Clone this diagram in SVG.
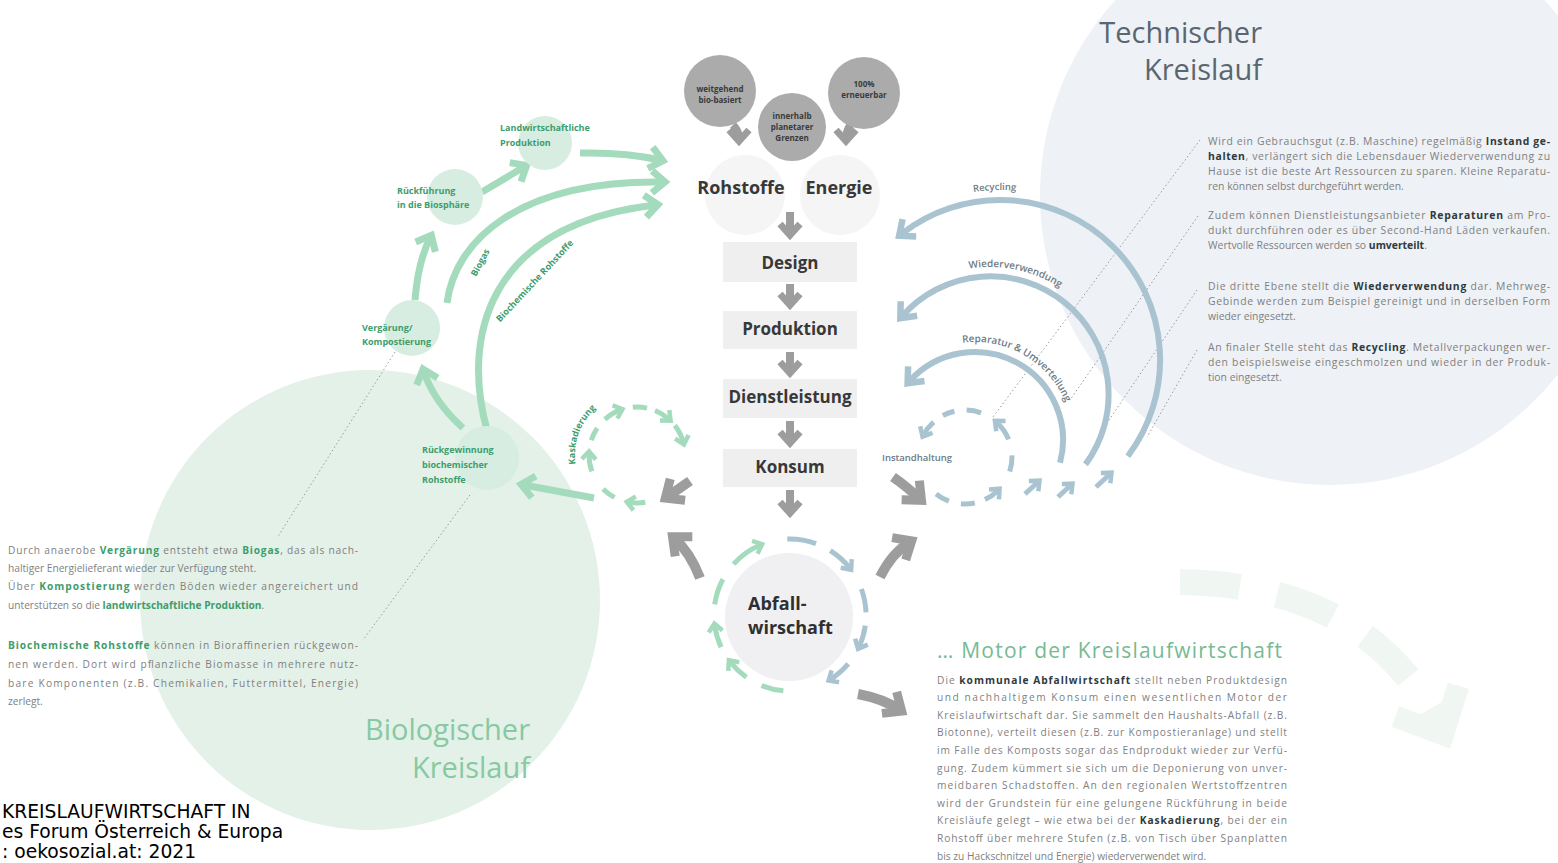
<svg xmlns="http://www.w3.org/2000/svg" width="1558" height="863" viewBox="0 0 1558 863">
<style>
.body{font-family:"Open Sans","Noto Sans",sans-serif;font-size:10.2px;fill:#7f7f7f}
.bodyR{font-size:10.4px}
.bg{font-weight:700;fill:#3d9d6d}
.bd{font-weight:700;fill:#2f3a40}
.node{font-family:"Open Sans","Noto Sans",sans-serif;font-weight:700;font-size:17px;fill:#383838;text-anchor:middle}
.glab{font-family:"Open Sans","Noto Sans",sans-serif;font-weight:700;font-size:9px;fill:#3d9d6d}
.tlab{font-family:"Open Sans","Noto Sans",sans-serif;font-weight:600;font-size:9.5px;fill:#6e7b84}
.circ{font-family:"Open Sans","Noto Sans",sans-serif;font-weight:700;font-size:8px;fill:#3a3a3a;text-anchor:middle}
.box{fill:#efefef}
.gcirc{fill:#ababab}
.lgc{fill:#d7ede1}
.dot{stroke:#9a9a9a;stroke-width:1;stroke-dasharray:1.5 2.5;fill:none}
.ga{fill:none;stroke:#a5dbbd;stroke-width:7}
.gs{fill:none;stroke:#a5dbbd;stroke-width:5}
.ba{fill:none;stroke:#a9c4d0;stroke-width:6}
.bs{fill:none;stroke:#a9c4d0;stroke-width:5}
.gr{fill:none;stroke:#9d9d9d;stroke-width:8}
.grL{fill:none;stroke:#9d9d9d;stroke-width:10}
</style>
<defs>
<marker id="mGr" viewBox="0 0 30 30" markerWidth="30" markerHeight="30" refX="16" refY="15" orient="auto" markerUnits="userSpaceOnUse" overflow="visible"><path d="M6,4 L19,15 L6,26" fill="none" stroke="#a5dbbd" stroke-width="7"/></marker>
<marker id="mGrS" viewBox="0 0 18 18" markerWidth="18" markerHeight="18" refX="9" refY="9" orient="auto" markerUnits="userSpaceOnUse" overflow="visible"><path d="M3,2 L11,9 L3,16" fill="none" stroke="#a5dbbd" stroke-width="4.5"/></marker>
<marker id="mB" viewBox="0 0 30 30" markerWidth="30" markerHeight="30" refX="16" refY="15" orient="auto" markerUnits="userSpaceOnUse" overflow="visible"><path d="M6,4 L19,15 L6,26" fill="none" stroke="#a9c4d0" stroke-width="6.5"/></marker>
<marker id="mBS" viewBox="0 0 18 18" markerWidth="18" markerHeight="18" refX="9" refY="9" orient="auto" markerUnits="userSpaceOnUse" overflow="visible"><path d="M3,2 L11,9 L3,16" fill="none" stroke="#a9c4d0" stroke-width="4.5"/></marker>
<marker id="mG" viewBox="0 0 28 28" markerWidth="28" markerHeight="28" refX="15" refY="14" orient="auto" markerUnits="userSpaceOnUse" overflow="visible"><path d="M6,4 L17,14 L6,24" fill="none" stroke="#9d9d9d" stroke-width="7"/></marker>
<marker id="mGL" viewBox="0 0 36 36" markerWidth="36" markerHeight="36" refX="19" refY="18" orient="auto" markerUnits="userSpaceOnUse" overflow="visible"><path d="M6,5 L21,18 L6,31" fill="none" stroke="#9d9d9d" stroke-width="9"/></marker>
<marker id="mF" viewBox="0 0 90 90" markerWidth="90" markerHeight="90" refX="45" refY="45" orient="auto" markerUnits="userSpaceOnUse" overflow="visible"><path d="M15,10 L52,45 L15,80" fill="none" stroke="#f0f7f2" stroke-width="22"/></marker>
</defs>

<rect width="1558" height="863" fill="#ffffff"/>

<g id="backgrounds">
<circle cx="1330" cy="195" r="290" fill="#eef1f5"/>
<circle cx="370" cy="600" r="230" fill="#e4f1e9"/>
<path d="M1180,582 Q1370,585 1440,728" fill="none" stroke="#f0f7f2" stroke-width="26" stroke-dasharray="60 38" marker-end="url(#mF)"/>
</g>

<g id="title-technisch" font-family="'Open Sans','Noto Sans',sans-serif" font-size="29" fill="#5a6670" text-anchor="end">
<text x="1262" y="43">Technischer</text>
<text x="1262" y="80">Kreislauf</text>
</g>
<g id="title-biologisch" font-family="'Open Sans','Noto Sans',sans-serif" font-size="29" fill="#86c9a2" text-anchor="end">
<text x="530" y="740">Biologischer</text>
<text x="530" y="778">Kreislauf</text>
</g>

<g id="connectors">
<line class="dot" x1="395" y1="352" x2="277" y2="538"/>
<line class="dot" x1="470" y1="495" x2="363" y2="640"/>
<line class="dot" x1="1200" y1="140" x2="993" y2="417"/>
<line class="dot" x1="1198" y1="216" x2="1070" y2="400"/>
<line class="dot" x1="1197" y1="290" x2="1107" y2="423"/>
<line class="dot" x1="1197" y1="350" x2="1147" y2="437"/>

<path class="gr" d="M733,125 Q739,131 739,139" marker-end="url(#mG)"/>
<path class="gr" d="M851,124 Q846,131 846,139" marker-end="url(#mG)"/>

<path class="gr" d="M790,212 V233" marker-end="url(#mG)"/>
<path class="gr" d="M790,284 V303" marker-end="url(#mG)"/>
<path class="gr" d="M790,352 V371" marker-end="url(#mG)"/>
<path class="gr" d="M790,421 V441" marker-end="url(#mG)"/>
<path class="gr" d="M790,490 V511" marker-end="url(#mG)"/>

<path class="grL" d="M690,481 L667,497" marker-end="url(#mGL)"/>
<path class="grL" d="M700,578 Q690,552 674,538" marker-end="url(#mGL)"/>
<path class="grL" d="M880,577 Q892,553 910,542" marker-end="url(#mGL)"/>
<path class="grL" d="M893,477 Q906,486 920,499" marker-end="url(#mGL)"/>
<path class="grL" d="M858,694 Q884,699 900,710" marker-end="url(#mGL)"/>

<path class="ga" d="M482,192 L524,167" marker-end="url(#mGr)"/>
<path class="ga" d="M580,153 Q625,152 660,160" marker-end="url(#mGr)"/>
<path class="ga" d="M447,303 C455,240 520,180 662,182" marker-end="url(#mGr)"/>
<path class="ga" d="M487,430 C462,340 485,225 655,205" marker-end="url(#mGr)"/>
<path class="ga" d="M415,300 Q418,262 430,238" marker-end="url(#mGr)"/>
<path class="ga" d="M463,428 Q434,402 424,372" marker-end="url(#mGr)"/>
<path class="ga" d="M594,498 Q562,492 524,485" marker-end="url(#mGr)"/>

<path class="gs" d="M645.3,502.3 A48,48 0 0 1 628.7,502.3" marker-end="url(#mGrS)"/>
<path class="gs" d="M614.5,497.4 A48,48 0 0 1 603.1,488.9"/>
<path class="gs" d="M591.9,471.4 A48,48 0 0 1 589.0,453.3" marker-end="url(#mGrS)"/>
<path class="gs" d="M591.3,440.2 A48,48 0 0 1 597.2,428.2"/>
<path class="gs" d="M604.9,419.3 A48,48 0 0 1 620.6,409.9" marker-end="url(#mGrS)"/>
<path class="gs" d="M632.8,407.2 A48,48 0 0 1 647.0,408.1"/>
<path class="gs" d="M655.0,410.5 A48,48 0 0 1 669.1,419.3" marker-end="url(#mGrS)"/>
<path class="gs" d="M674.8,425.4 A48,48 0 0 1 683.4,442.6" marker-end="url(#mGrS)"/>

<path class="gs" d="M783.4,690.7 A76,76 0 0 1 761.5,685.5"/>
<path class="gs" d="M746.4,677.3 A76,76 0 0 1 730.1,661.8" marker-end="url(#mGrS)"/>
<path class="gs" d="M721.1,647.1 A76,76 0 0 1 714.7,625.6" marker-end="url(#mGrS)"/>
<path class="gs" d="M714.7,604.4 A76,76 0 0 1 722.9,579.3"/>
<path class="gs" d="M733.5,564.1 A76,76 0 0 1 760.3,545.0" marker-end="url(#mGrS)"/>
<path class="bs" d="M787.3,539.0 A76,76 0 0 1 816.0,543.6"/>
<path class="bs" d="M830.3,550.6 A76,76 0 0 1 849.9,568.2" marker-end="url(#mBS)"/>
<path class="bs" d="M861.4,589.0 A76,76 0 0 1 866.0,612.3"/>
<path class="bs" d="M865.3,625.6 A76,76 0 0 1 858.9,647.1" marker-end="url(#mBS)"/>
<path class="bs" d="M848.2,663.9 A76,76 0 0 1 830.3,679.4" marker-end="url(#mBS)"/>

<path id="arcRecycling" class="ba" d="M1127.8,456.3 A160,160 0 0 0 901.5,233.9" marker-end="url(#mB)"/>
<path id="arcWieder" class="ba" d="M1085.5,464.4 A118,118 0 0 0 902.3,316.0" marker-end="url(#mB)"/>
<path id="arcRep" class="ba" d="M1060,462.8 A88,88 0 0 0 909.6,381.1" marker-end="url(#mB)"/>

<path class="bs" d="M936.1,494.0 A47,47 0 0 0 948.9,501.2"/>
<path class="bs" d="M960.9,503.8 A47,47 0 0 0 974.8,503.0"/>
<path class="bs" d="M984.9,499.6 A47,47 0 0 0 998.2,490.2" marker-end="url(#mBS)"/>
<path class="bs" d="M1009.7,471.5 A47,47 0 0 0 1012.0,455.4"/>
<path class="bs" d="M1008.6,439.4 A47,47 0 0 0 996.4,422.1" marker-end="url(#mBS)"/>
<path class="bs" d="M981.1,412.8 A47,47 0 0 0 966.6,410.0"/>
<path class="bs" d="M954.4,411.2 A47,47 0 0 0 942.9,415.5"/>
<path class="bs" d="M933.6,422.1 A47,47 0 0 0 923.5,434.9" marker-end="url(#mBS)"/>
<path class="bs" d="M1025,494 L1038,482" marker-end="url(#mBS)"/>
<path class="bs" d="M1058,497 L1071,485" marker-end="url(#mBS)"/>
<path class="bs" d="M1096,487 L1110,474" marker-end="url(#mBS)"/>

<path id="tpRec" d="M915,212.8 A170,170 0 0 1 1085,212.8" fill="none"/>
<path id="tpWie" d="M935.9,279.0 A128,128 0 0 1 1094.9,321.6" fill="none"/>
<path id="tpRep" d="M926,355.1 A98,98 0 0 1 1073,440" fill="none"/>
<path id="tpKas" d="M589.5,494.9 A62,62 0 0 1 626.2,393.9" fill="none"/>
</g>

<g id="connector-labels">
<text class="tlab"><textPath href="#tpRec" startOffset="47%" text-anchor="middle">Recycling</textPath></text>
<text class="tlab" style="font-size:10px"><textPath href="#tpWie" startOffset="46%" text-anchor="middle">Wiederverwendung</textPath></text>
<text class="tlab" style="font-size:10px"><textPath href="#tpRep" startOffset="50%" text-anchor="middle">Reparatur &amp; Umverteilung</textPath></text>
<text class="tlab" x="882" y="461">Instandhaltung</text>
<text class="glab"><textPath href="#tpKas" startOffset="50%" text-anchor="middle">Kaskadierung</textPath></text>
<text class="glab" transform="translate(483,264) rotate(-62)" text-anchor="middle">Biogas</text>
<text class="glab" transform="translate(537,283) rotate(-47)" text-anchor="middle">Biochemische Rohstoffe</text>
</g>

<g id="node-biobasiert">
<circle class="gcirc" cx="720" cy="91" r="36"/>
<text class="circ" x="720" y="92">weitgehend</text>
<text class="circ" x="720" y="103">bio-basiert</text>
</g>
<g id="node-grenzen">
<circle class="gcirc" cx="792" cy="127" r="34"/>
<text class="circ" x="792" y="119">innerhalb</text>
<text class="circ" x="792" y="130">planetarer</text>
<text class="circ" x="792" y="141">Grenzen</text>
</g>
<g id="node-erneuerbar">
<circle class="gcirc" cx="864" cy="93" r="36"/>
<text class="circ" x="864" y="87">100%</text>
<text class="circ" x="864" y="98">erneuerbar</text>
</g>

<g id="node-rohstoffe">
<circle cx="745" cy="195" r="40" fill="#f5f5f5"/>
<text class="node" x="741" y="194" style="font-size:18px">Rohstoffe</text>
</g>
<g id="node-energie">
<circle cx="840" cy="195" r="40" fill="#f5f5f5"/>
<text class="node" x="839" y="194" style="font-size:18px">Energie</text>
</g>
<g id="node-design">
<rect class="box" x="723" y="242" width="134" height="40"/>
<text class="node" x="790" y="269">Design</text>
</g>
<g id="node-produktion">
<rect class="box" x="723" y="311" width="134" height="38"/>
<text class="node" x="790" y="335">Produktion</text>
</g>
<g id="node-dienstleistung">
<rect class="box" x="723" y="379" width="134" height="39"/>
<text class="node" x="790" y="403">Dienstleistung</text>
</g>
<g id="node-konsum">
<rect class="box" x="723" y="449" width="134" height="38"/>
<text class="node" x="790" y="473">Konsum</text>
</g>
<g id="node-abfall">
<circle cx="789" cy="617" r="64" fill="#f0f0f2"/>
<text x="748" y="610" font-family="'Open Sans','Noto Sans',sans-serif" font-weight="700" font-size="18" fill="#2f2f2f">Abfall-</text>
<text x="748" y="634" font-family="'Open Sans','Noto Sans',sans-serif" font-weight="700" font-size="18" fill="#2f2f2f">wirschaft</text>
</g>

<g id="node-landwirtschaft">
<circle class="lgc" cx="545" cy="143" r="27"/>
<text class="glab" x="500" y="131">Landwirtschaftliche</text>
<text class="glab" x="500" y="146">Produktion</text>
</g>
<g id="node-rueckfuehrung">
<circle class="lgc" cx="455" cy="197" r="28"/>
<text class="glab" x="397" y="194">Rückführung</text>
<text class="glab" x="397" y="208">in die Biosphäre</text>
</g>
<g id="node-vergaerung">
<circle class="lgc" cx="412" cy="328" r="28"/>
<text class="glab" x="362" y="331">Vergärung/</text>
<text class="glab" x="362" y="345">Kompostierung</text>
</g>
<g id="node-rueckgewinnung">
<circle class="lgc" cx="487" cy="458" r="32"/>
<text class="glab" x="422" y="453">Rückgewinnung</text>
<text class="glab" x="422" y="468">biochemischer</text>
<text class="glab" x="422" y="483">Rohstoffe</text>
</g>

<g id="text-technisch" class="body bodyR">
<text x="1208" y="145" textLength="342" lengthAdjust="spacing">Wird ein Gebrauchsgut (z.B. Maschine) regelmäßig <tspan class="bd">Instand ge-</tspan></text>
<text x="1208" y="160" textLength="342" lengthAdjust="spacing"><tspan class="bd">halten</tspan>, verlängert sich die Lebensdauer Wiederverwendung zu</text>
<text x="1208" y="175" textLength="342" lengthAdjust="spacing">Hause ist die beste Art Ressourcen zu sparen. Kleine Reparatu-</text>
<text x="1208" y="190">ren können selbst durchgeführt werden.</text>
<text x="1208" y="219" textLength="342" lengthAdjust="spacing">Zudem können Dienstleistungsanbieter <tspan class="bd">Reparaturen</tspan> am Pro-</text>
<text x="1208" y="234" textLength="342" lengthAdjust="spacing">dukt durchführen oder es über Second-Hand Läden verkaufen.</text>
<text x="1208" y="249">Wertvolle Ressourcen werden so <tspan class="bd">umverteilt</tspan>.</text>
<text x="1208" y="290" textLength="342" lengthAdjust="spacing">Die dritte Ebene stellt die <tspan class="bd">Wiederverwendung</tspan> dar. Mehrweg-</text>
<text x="1208" y="305" textLength="342" lengthAdjust="spacing">Gebinde werden zum Beispiel gereinigt und in derselben Form</text>
<text x="1208" y="320">wieder eingesetzt.</text>
<text x="1208" y="351" textLength="342" lengthAdjust="spacing">An finaler Stelle steht das <tspan class="bd">Recycling</tspan>. Metallverpackungen wer-</text>
<text x="1208" y="366" textLength="342" lengthAdjust="spacing">den beispielsweise eingeschmolzen und wieder in der Produk-</text>
<text x="1208" y="381">tion eingesetzt.</text>
</g>

<g id="text-biologisch" class="body">
<text x="8" y="554" textLength="350" lengthAdjust="spacing">Durch anaerobe <tspan class="bg">Vergärung</tspan> entsteht etwa <tspan class="bg">Biogas</tspan>, das als nach-</text>
<text x="8" y="572">haltiger Energielieferant wieder zur Verfügung steht.</text>
<text x="8" y="590" textLength="350" lengthAdjust="spacing">Über <tspan class="bg">Kompostierung</tspan> werden Böden wieder angereichert und</text>
<text x="8" y="609">unterstützen so die <tspan class="bg">landwirtschaftliche Produktion</tspan>.</text>
<text x="8" y="649" textLength="350" lengthAdjust="spacing"><tspan class="bg">Biochemische Rohstoffe</tspan> können in Bioraffinerien rückgewon-</text>
<text x="8" y="668" textLength="350" lengthAdjust="spacing">nen werden. Dort wird pflanzliche Biomasse in mehrere nutz-</text>
<text x="8" y="687" textLength="350" lengthAdjust="spacing">bare Komponenten (z.B. Chemikalien, Futtermittel, Energie)</text>
<text x="8" y="705">zerlegt.</text>
</g>

<g id="text-motor" class="body">
<text x="937" y="658" style="font-size:21px;fill:#77ba93" textLength="345" lengthAdjust="spacing">… Motor der Kreislaufwirtschaft</text>
<text x="937" y="683.5" textLength="350" lengthAdjust="spacing">Die <tspan class="bd">kommunale Abfallwirtschaft</tspan> stellt neben Produktdesign</text>
<text x="937" y="701.1" textLength="350" lengthAdjust="spacing">und nachhaltigem Konsum einen wesentlichen Motor der</text>
<text x="937" y="718.7" textLength="350" lengthAdjust="spacing">Kreislaufwirtschaft dar. Sie sammelt den Haushalts-Abfall (z.B.</text>
<text x="937" y="736.3" textLength="350" lengthAdjust="spacing">Biotonne), verteilt diesen (z.B. zur Kompostieranlage) und stellt</text>
<text x="937" y="753.9" textLength="350" lengthAdjust="spacing">im Falle des Komposts sogar das Endprodukt wieder zur Verfü-</text>
<text x="937" y="771.5" textLength="350" lengthAdjust="spacing">gung. Zudem kümmert sie sich um die Deponierung von unver-</text>
<text x="937" y="789.1" textLength="350" lengthAdjust="spacing">meidbaren Schadstoffen. An den regionalen Wertstoffzentren</text>
<text x="937" y="806.7" textLength="350" lengthAdjust="spacing">wird der Grundstein für eine gelungene Rückführung in beide</text>
<text x="937" y="824.3" textLength="350" lengthAdjust="spacing">Kreisläufe gelegt – wie etwa bei der <tspan class="bd">Kaskadierung</tspan>, bei der ein</text>
<text x="937" y="841.9" textLength="350" lengthAdjust="spacing">Rohstoff über mehrere Stufen (z.B. von Tisch über Spanplatten</text>
<text x="937" y="859.5">bis zu Hackschnitzel und Energie) wiederverwendet wird.</text>
</g>

<g id="credit" font-family="'DejaVu Sans',Verdana,sans-serif" font-size="18.7" fill="#000000">
<text x="2" y="818">KREISLAUFWIRTSCHAFT IN</text>
<text x="2" y="838">es Forum Österreich &amp; Europa</text>
<text x="2" y="858">: oekosozial.at: 2021</text>
</g>
</svg>
